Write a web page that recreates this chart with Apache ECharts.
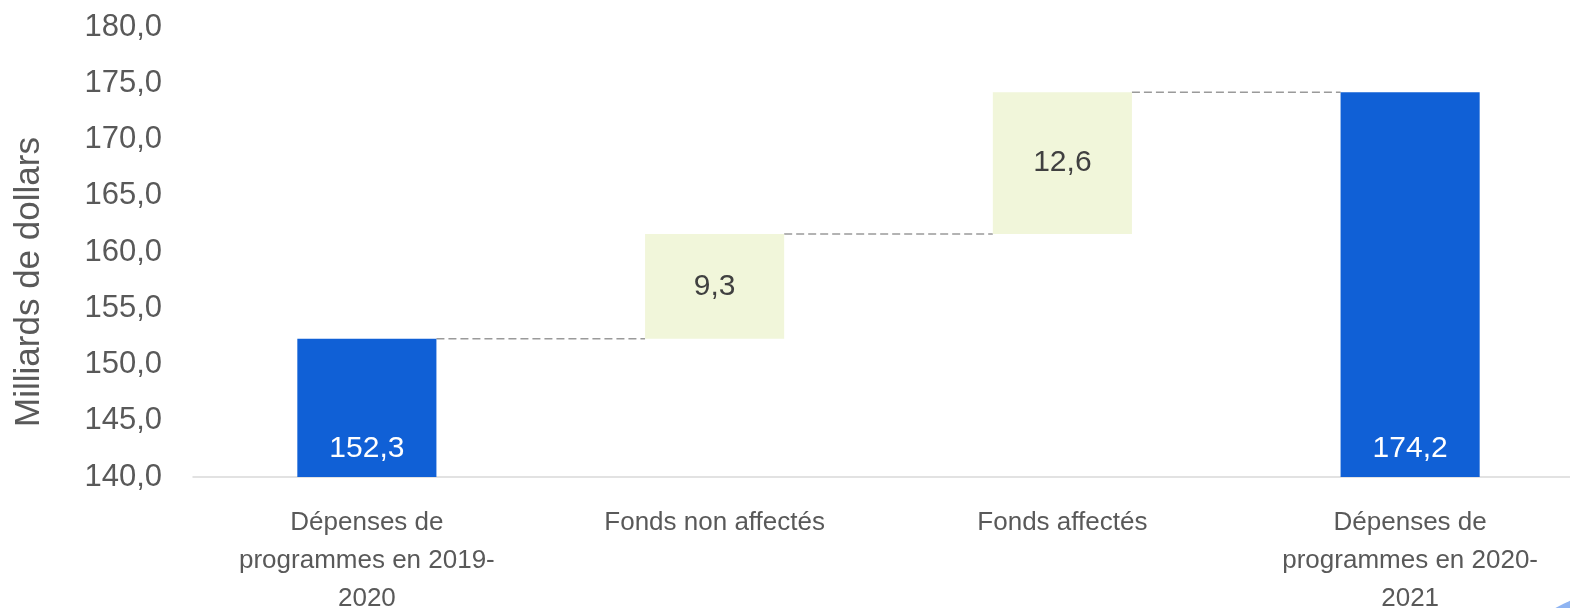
<!DOCTYPE html>
<html>
<head>
<meta charset="utf-8">
<script src="https://cdn.jsdelivr.net/npm/echarts@6/dist/echarts.min.js"></script>
<style>
  html, body { margin: 0; padding: 0; background: #fff; }
  #chart { width: 1570px; height: 608px; }
</style>
</head>
<body>
<div id="chart"></div>
<script>
const categories = [
  'Dépenses de\nprogrammes en 2019-\n2020',
  'Fonds non affectés',
  'Fonds affectés',
  'Dépenses de\nprogrammes en 2020-\n2021',
];
// invisible part under each floating bar
const baseValues = [0, 152.3, 161.6, 0];
const barValues = [152.3, 9.3, 12.6, 174.2];
const isTotal = [true, false, false, true];
const yTicks = { min: 140, max: 180, interval: 5 };

const BLUE = '#1060d6';
const PALE = '#f1f6da';

const fmt = v => v.toFixed(1).replace('.', ',');

// dashed connector levels: top of each bar, joining it to the next one
const connectors = [];
for (let i = 0; i < categories.length - 1; i++) {
  connectors.push([i, baseValues[i] + barValues[i]]);
}

const chart = echarts.init(document.getElementById('chart'));

const option = {
  animation: false,
  grid: { left: 193, width: 1391, top: 27, height: 450, outerBoundsMode: 'none' },
  xAxis: {
    type: 'category',
    data: categories,
    axisTick: { show: false },
    axisLine: { lineStyle: { color: '#d9d9d9', width: 1.5 } },
    axisLabel: {
      interval: 0,
      margin: 27,
      color: '#595959',
      fontSize: 26,
      lineHeight: 38,
      fontFamily: "'Liberation Sans', sans-serif",
    },
  },
  yAxis: {
    type: 'value',
    min: yTicks.min,
    max: yTicks.max,
    interval: yTicks.interval,
    name: 'Milliards de dollars',
    nameLocation: 'middle',
    nameGap: 146,
    nameTextStyle: {
      color: '#595959',
      fontSize: 35,
      fontFamily: "'Liberation Sans', sans-serif",
      padding: [0, 60, 0, 0],
    },
    axisLine: { show: false },
    axisTick: { show: false },
    splitLine: { show: false },
    axisLabel: {
      margin: 31,
      color: '#595959',
      fontSize: 31,
      fontFamily: "'Liberation Sans', sans-serif",
      formatter: v => fmt(v),
    },
  },
  series: [
    {
      type: 'custom',
      z: 1,
      data: connectors,
      renderItem: (params, api) => {
        const i = api.value(0);
        const v = api.value(1);
        const p1 = api.coord([i, v]);
        const p2 = api.coord([i + 1, v]);
        const half = api.size([1, 0])[0] * 0.2;
        return {
          type: 'line',
          shape: { x1: p1[0] + half, y1: p1[1], x2: p2[0] - half, y2: p2[1] },
          style: { stroke: '#9a9a9a', lineWidth: 1.5, lineDash: [8, 4] },
        };
      },
    },
    {
      type: 'bar',
      stack: 'w',
      barWidth: '40%',
      z: 2,
      itemStyle: { color: 'transparent' },
      data: baseValues,
      silent: true,
    },
    {
      type: 'bar',
      stack: 'w',
      barWidth: '40%',
      z: 2,
      data: barValues.map((v, i) => ({
        value: v,
        itemStyle: { color: isTotal[i] ? BLUE : PALE },
        label: isTotal[i]
          ? { position: 'insideBottom', distance: 13, color: '#ffffff' }
          : { position: 'inside', color: '#404040' },
      })),
      label: {
        show: true,
        fontSize: 30,
        fontFamily: "'Liberation Sans', sans-serif",
        formatter: p => fmt(p.value),
      },
    },
  ],
  graphic: [
    {
      type: 'circle',
      shape: { cx: 1610, cy: 700, r: 107 },
      style: { fill: '#8fb4f2' },
      silent: true,
    },
  ],
};

chart.setOption(option);
</script>
</body>
</html>
